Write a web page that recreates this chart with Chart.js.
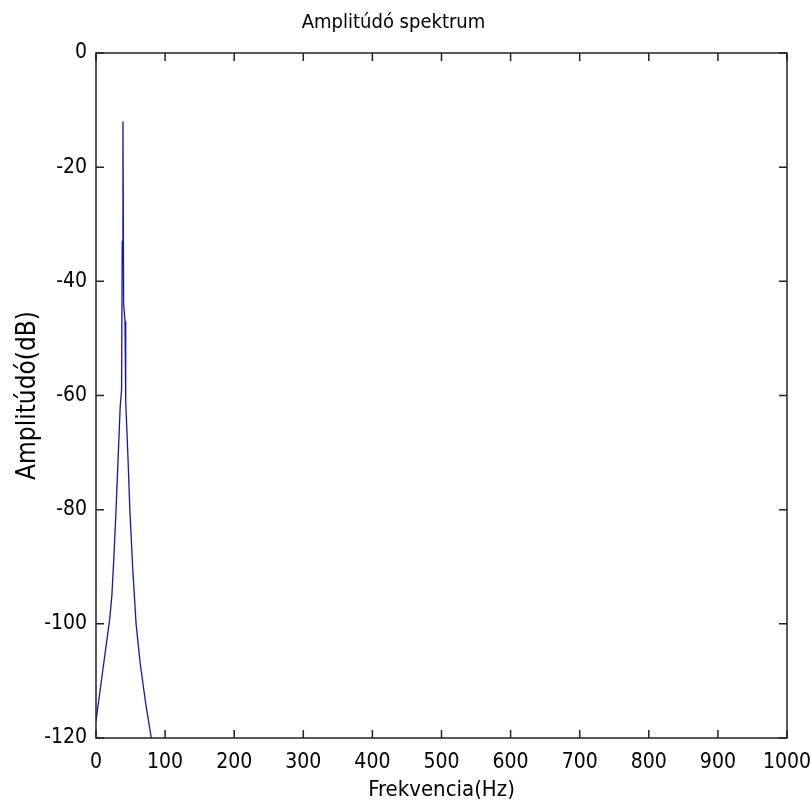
<!DOCTYPE html>
<html>
<head>
<meta charset="utf-8">
<script src="https://cdn.jsdelivr.net/npm/chart.js@4"></script>
<style>
    html, body { margin: 0; padding: 0; background: #fff; }
    #wrap { width: 812px; height: 811px; }
</style>
</head>
<body>
<div id="wrap"><canvas id="spectrum-chart" width="812" height="811"></canvas></div>
<script>
// Données
const frequencies = [0, 10, 20, 23, 26, 29, 32, 35, 37, 38, 39, 40, 42, 43, 46, 49, 53, 58, 64, 72, 80];
const amplitudes = [-117, -108, -99, -95, -88, -80, -71, -62, -59, -33, -12, -44, -47, -61, -70, -80, -90, -100, -107, -114, -120];
const xTicks = [0, 100, 200, 300, 400, 500, 600, 700, 800, 900, 1000];
const yTicks = [0, -20, -40, -60, -80, -100, -120];

const FONT = '"Liberation Sans Narrow", "DejaVu Sans Condensed", "Liberation Sans", sans-serif';

// Petits traits vers l'intérieur sur les quatre côtés, comme dans MATLAB
const innerTicks = {
    id: 'innerTicks',
    afterDatasetsDraw(chart) {
        const { ctx, chartArea: a, scales } = chart;
        const len = 8;
        ctx.save();
        ctx.strokeStyle = '#222';
        ctx.lineWidth = 1.5;
        ctx.strokeRect(a.left, a.top, a.right - a.left, a.bottom - a.top);
        ctx.beginPath();
        xTicks.forEach(v => {
            const px = scales.x.getPixelForValue(v);
            ctx.moveTo(px, a.bottom); ctx.lineTo(px, a.bottom - len);
            ctx.moveTo(px, a.top); ctx.lineTo(px, a.top + len);
        });
        yTicks.forEach(v => {
            const py = scales.y.getPixelForValue(v);
            ctx.moveTo(a.left, py); ctx.lineTo(a.left + len, py);
            ctx.moveTo(a.right, py); ctx.lineTo(a.right - len, py);
        });
        ctx.stroke();
        ctx.restore();
    }
};

const ctx = document.getElementById('spectrum-chart').getContext('2d');
new Chart(ctx, {
    type: 'scatter',
    data: {
        datasets: [{
            data: frequencies.map((f, i) => ({ x: f, y: amplitudes[i] })),
            showLine: true,
            borderColor: '#1414b4',
            borderWidth: 1.3,
            pointRadius: 0,
            tension: 0
        }]
    },
    options: {
        responsive: false,
        animation: false,
        layout: { padding: { left: 0, right: 25, top: 0, bottom: 0 } },
        plugins: {
            legend: { display: false },
            tooltip: { enabled: false },
            title: {
                display: true,
                text: 'Amplitúdó spektrum',
                color: '#000',
                font: { family: FONT, size: 20, weight: 'normal' },
                padding: { top: 11, bottom: 18 }
            }
        },
        scales: {
            x: {
                type: 'linear',
                min: 0,
                max: 1000,
                afterFit: scale => {
                    scale.height = 73;
                    scale.paddingLeft = 0;
                    scale.paddingRight = 0;
                },
                afterBuildTicks: scale => { scale.ticks = xTicks.map(v => ({ value: v })); },
                grid: { display: false, drawTicks: false },
                border: { display: false },
                ticks: {
                    color: '#000',
                    padding: 12,
                    maxRotation: 0,
                    font: { family: FONT, size: 21 },
                    callback: v => String(v)
                },
                title: {
                    display: true,
                    text: 'Frekvencia(Hz)',
                    color: '#000',
                    font: { family: FONT, size: 22 },
                    padding: { top: 0, bottom: 8 }
                }
            },
            y: {
                type: 'linear',
                min: -120,
                max: 0,
                afterFit: scale => { scale.width = 96; },
                afterBuildTicks: scale => { scale.ticks = yTicks.map(v => ({ value: v })); },
                grid: { display: false, drawTicks: false },
                border: { display: false },
                ticks: {
                    color: '#000',
                    padding: 9,
                    font: { family: FONT, size: 21 },
                    callback: v => String(v)
                },
                title: {
                    display: true,
                    text: 'Amplitúdó(dB)',
                    color: '#000',
                    font: { family: FONT, size: 26 },
                    padding: { top: 13, bottom: 0 }
                }
            }
        }
    },
    plugins: [innerTicks]
});
</script>
</body>
</html>
